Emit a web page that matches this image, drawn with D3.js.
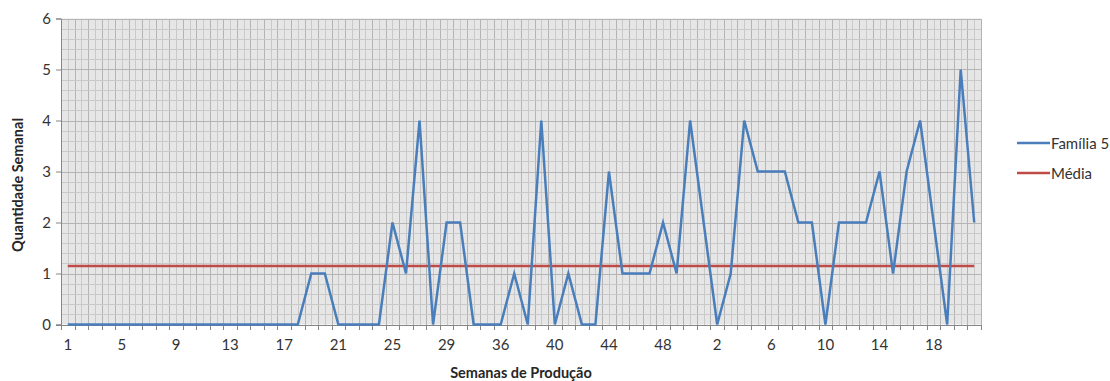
<!DOCTYPE html>
<html>
<head>
<meta charset="utf-8">
<script src="https://cdn.jsdelivr.net/npm/d3@7"></script>
<style>
  html, body { margin: 0; padding: 0; background: #ffffff; }
  svg { display: block; font-family: Lato, "Open Sans", sans-serif; }
</style>
</head>
<body>
<svg id="chart" width="1110" height="381"></svg>
<script>
// Production week labels (two production years, some weeks absent)
const weeks = [
  1, 2, 3, 4, 5, 6, 7, 8, 9, 10, 11, 12, 13, 14, 15, 16, 17, 18, 19, 20,
  21, 22, 23, 24, 25, 26, 27, 28, 29, 30, 31, 32, 36, 37, 38, 39, 40, 41, 42, 43,
  44, 45, 46, 47, 48, 49, 50, 1, 2, 3, 4, 5, 6, 7, 8, 9, 10, 11, 12, 13,
  14, 15, 16, 17, 18, 19, 20, 21
];

// Weekly quantity for "Família 5"
const quantities = [
  0, 0, 0, 0, 0, 0, 0, 0, 0, 0, 0, 0, 0, 0, 0, 0, 0, 0, 1, 1,
  0, 0, 0, 0, 2, 1, 4, 0, 2, 2, 0, 0, 0, 1, 0, 4, 0, 1, 0, 0,
  3, 1, 1, 1, 2, 1, 4, 2, 0, 1, 4, 3, 3, 3, 2, 2, 0, 2, 2, 2,
  3, 1, 3, 4, 2, 0, 5, 2
];

const yTicks = [0, 1, 2, 3, 4, 5, 6];
const seriesNames = ["Família 5", "Média"];
const seriesColors = ["#4a7ebb", "#be4b48"];

// Average line value
const mean = d3.mean(quantities);

const svg = d3.select("#chart");
const plot = { left: 61, right: 981, top: 18.5, bottom: 324.5 };

const idx = d3.range(weeks.length);
const x = d3.scaleBand().domain(idx).range([plot.left, plot.right]).padding(0);
const xc = i => x(i) + x.bandwidth() / 2;
const y = d3.scaleLinear().domain([0, 6]).range([plot.bottom, plot.top]);

// Plot background
svg.append("rect")
  .attr("x", plot.left).attr("y", plot.top)
  .attr("width", plot.right - plot.left).attr("height", plot.bottom - plot.top)
  .attr("fill", "#e6e6e6");

// Minor and major gridlines
const grid = svg.append("g").attr("shape-rendering", "crispEdges");
const halfSteps = d3.range(0, weeks.length * 2 + 1).map(k => plot.left + k * x.bandwidth() / 2);
grid.selectAll("line.v").data(halfSteps).join("line")
  .attr("class", "v")
  .attr("x1", d => Math.round(d) + 0.5).attr("x2", d => Math.round(d) + 0.5)
  .attr("y1", plot.top).attr("y2", plot.bottom)
  .attr("stroke", (d, k) => k % 2 === 0 ? "#b4b4b4" : "#c9c9c9")
  .attr("stroke-width", 1);

const ySteps = d3.range(0, 31).map(k => k / 5);
grid.selectAll("line.h").data(ySteps).join("line")
  .attr("class", "h")
  .attr("x1", plot.left).attr("x2", plot.right)
  .attr("y1", d => Math.round(y(d)) + 0.5).attr("y2", d => Math.round(y(d)) + 0.5)
  .attr("stroke", (d, k) => k % 5 === 0 ? "#b4b4b4" : "#c9c9c9")
  .attr("stroke-width", 1);

// Y axis
const yAxis = svg.append("g")
  .attr("transform", `translate(${plot.left},0)`)
  .call(d3.axisLeft(y).tickValues(yTicks).tickFormat(d3.format("d")).tickSize(5).tickPadding(5));
yAxis.select(".domain").attr("stroke", "#868686");
yAxis.selectAll(".tick line").attr("stroke", "#868686");
yAxis.selectAll("text").attr("font-size", 15).attr("fill", "#333333").attr("font-family", "Lato, sans-serif");

// X axis: labels every fourth week, tick marks at each category boundary
const xAxis = svg.append("g")
  .attr("transform", `translate(0,${plot.bottom})`)
  .call(d3.axisBottom(x)
    .tickValues(idx.filter(i => i % 4 === 0))
    .tickFormat(i => weeks[i])
    .tickSize(0).tickPadding(15));
xAxis.select(".domain").remove();
xAxis.selectAll("text").attr("font-size", 15).attr("fill", "#333333").attr("font-family", "Lato, sans-serif");

svg.append("g").attr("shape-rendering", "crispEdges")
  .selectAll("line").data(d3.range(weeks.length + 1)).join("line")
  .attr("x1", k => Math.round(plot.left + k * x.bandwidth()) + 0.5)
  .attr("x2", k => Math.round(plot.left + k * x.bandwidth()) + 0.5)
  .attr("y1", plot.bottom).attr("y2", plot.bottom + 5)
  .attr("stroke", "#868686");
svg.append("line")
  .attr("x1", plot.left - 5).attr("x2", plot.right)
  .attr("y1", Math.round(plot.bottom) + 0.5).attr("y2", Math.round(plot.bottom) + 0.5)
  .attr("stroke", "#868686");

// Average line
svg.append("path")
  .datum([0, weeks.length - 1])
  .attr("d", d3.line().x(i => xc(i)).y(() => y(mean)))
  .attr("fill", "none")
  .attr("stroke", seriesColors[1])
  .attr("stroke-width", 2.5);

// Weekly series
svg.append("path")
  .datum(quantities)
  .attr("d", d3.line().x((d, i) => xc(i)).y(d => y(d)))
  .attr("fill", "none")
  .attr("stroke", seriesColors[0])
  .attr("stroke-width", 2.5)
  .attr("stroke-linejoin", "miter");

// Axis titles
svg.append("text")
  .attr("x", (plot.left + plot.right) / 2).attr("y", 378)
  .attr("text-anchor", "middle")
  .attr("font-size", 14.5).attr("font-weight", "bold").attr("fill", "#262626")
  .text("Semanas de Produção");

svg.append("text")
  .attr("transform", "translate(23,185) rotate(-90)")
  .attr("text-anchor", "middle")
  .attr("font-size", 14.5).attr("font-weight", "bold").attr("fill", "#262626")
  .text("Quantidade Semanal");

// Legend
const legend = svg.append("g").attr("transform", "translate(1017,143)");
seriesNames.forEach((name, k) => {
  const g = legend.append("g").attr("transform", `translate(0,${k * 30})`);
  g.append("line").attr("x1", 0).attr("x2", 33).attr("y1", 0).attr("y2", 0)
    .attr("stroke", seriesColors[k]).attr("stroke-width", 2.5);
  g.append("text").attr("x", 34).attr("y", 5.5)
    .attr("font-size", 15).attr("fill", "#333333")
    .text(name);
});
</script>
</body>
</html>
